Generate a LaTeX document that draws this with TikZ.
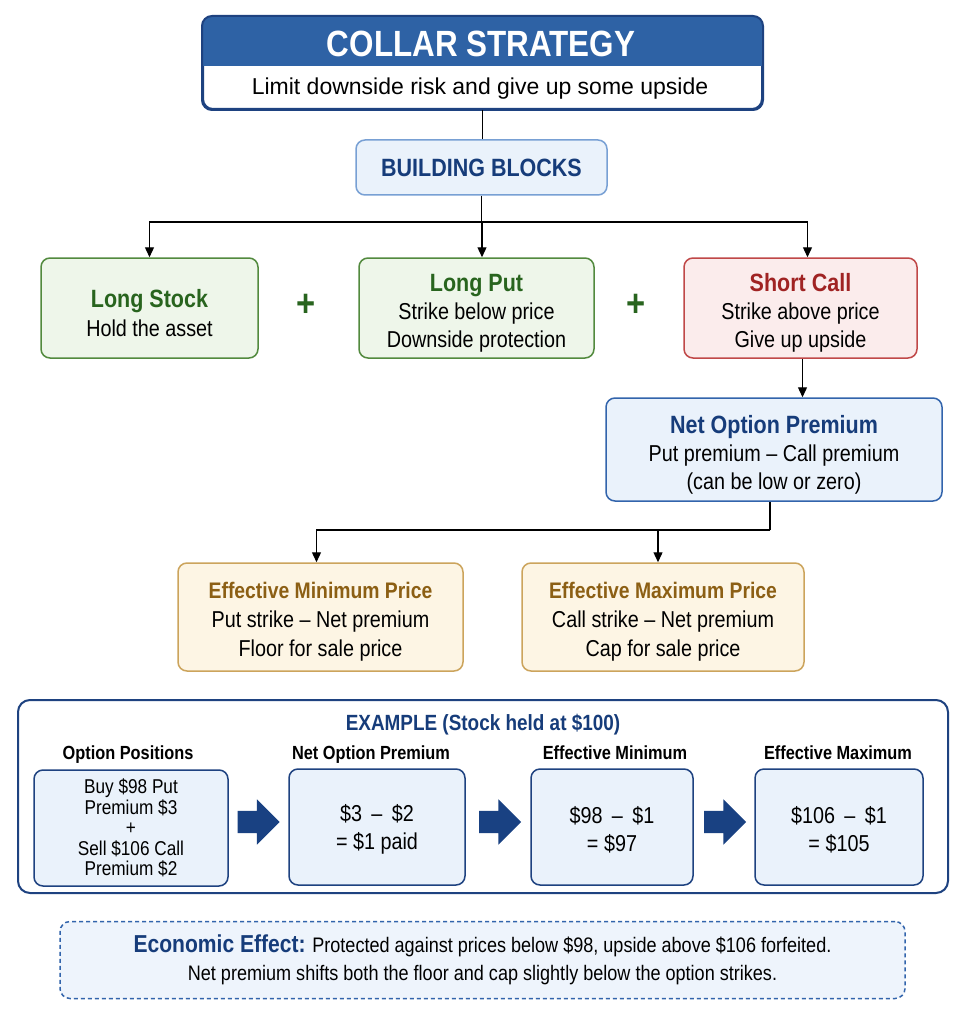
\documentclass[tikz,border=0pt]{standalone}
\usepackage{fontspec}
\setmainfont{Liberation Sans}[FakeStretch=0.86]
\newfontfamily\widefont{Liberation Sans}
\usetikzlibrary{arrows.meta,shapes.arrows}

\definecolor{hdrblue}{RGB}{46,98,165}
\definecolor{navyline}{RGB}{30,66,128}
\definecolor{navytext}{RGB}{22,60,122}
\definecolor{bluefill}{RGB}{234,242,251}
\definecolor{bbline}{RGB}{120,160,212}
\definecolor{blueline}{RGB}{50,100,172}
\definecolor{greenfill}{RGB}{238,246,234}
\definecolor{greenline}{RGB}{82,138,62}
\definecolor{greentext}{RGB}{40,100,30}
\definecolor{redfill}{RGB}{251,236,236}
\definecolor{redline}{RGB}{192,72,72}
\definecolor{redtext}{RGB}{160,35,35}
\definecolor{goldfill}{RGB}{253,245,228}
\definecolor{goldline}{RGB}{204,164,92}
\definecolor{goldtext}{RGB}{140,95,20}
\definecolor{arrowblue}{RGB}{25,65,130}
\definecolor{econfill}{RGB}{238,244,252}

\begin{document}
\begin{tikzpicture}[x=1pt,y=-1pt]
	\tikzstyle{every node} = [inner sep=0pt, align=center]
	\tikzstyle{box} = [draw, rounded corners=9pt, line width=1.5pt, font=\fontsize{23}{28}\selectfont]
	\tikzstyle{greenbox} = [box, fill=greenfill, draw=greenline, minimum height=100pt]
	\tikzstyle{redbox} = [box, fill=redfill, draw=redline, minimum height=100pt]
	\tikzstyle{bluebox} = [box, fill=bluefill, draw=blueline]
	\tikzstyle{goldbox} = [box, fill=goldfill, draw=goldline, minimum height=108pt, font=\fontsize{23}{29}\selectfont]
	\tikzstyle{exbox} = [box, fill=bluefill, draw=navyline, minimum height=116pt]
	\tikzstyle{colhead} = [anchor=base, font=\bfseries\fontsize{19}{22}\selectfont]
	\tikzstyle{plus} = [text=greentext, font=\bfseries\fontsize{38}{40}\selectfont]
	\tikzstyle{blockarrow} = [single arrow, fill=arrowblue, inner xsep=0pt, inner ysep=11pt, minimum height=42pt, single arrow head extend=11.5pt]
	\tikzstyle{arr} = [-{Triangle[length=10pt,width=9pt]}, line width=1.3pt]
	\tikzstyle{line} = [line width=1.3pt]
	\newcommand{\hd}[2]{{\color{#1}\bfseries\fontsize{25}{28}\selectfont\rule{0pt}{28pt}#2}}
	\newcommand{\gd}[1]{{\color{goldtext}\bfseries\fontsize{22.5}{29}\selectfont\rule{0pt}{26pt}#1}}

	\fill[white] (0,0) rectangle (967,1016);

	% title block
	\node[draw=navyline, line width=2pt, rounded corners=10pt, fill=white, minimum width=559pt, minimum height=92pt] (title) at (482.5,63) {};
	\begin{scope}
		\clip[rounded corners=10pt] (title.south west) rectangle (title.north east);
		\fill[hdrblue] (title.north west) rectangle ([yshift=-50pt]title.north east);
	\end{scope}
	\draw[navyline, line width=2pt, rounded corners=10pt] (title.south west) rectangle (title.north east);
	\node[text=white, font=\bfseries\fontsize{36.5}{40}\selectfont] (ttl) at (481,44) {COLLAR STRATEGY};
	\node[font=\widefont\fontsize{23}{27}\selectfont] (sub) at (480,89) {Limit downside risk and give up some upside};

	\node[box, fill=bluefill, draw=bbline, minimum width=251pt, minimum height=55pt, text=navytext, font=\bfseries\fontsize{25}{28}\selectfont] (bb) at (481.5,167.5) {BUILDING BLOCKS};

	% building blocks
	\node[greenbox, minimum width=217pt] (stock) at (149.5,308) {\hd{greentext}{Long Stock}\\[1pt] Hold the asset};
	\node[greenbox, minimum width=235pt] (put) at (476.5,308) {\hd{greentext}{Long Put}\\ Strike below price\\ Downside protection};
	\node[redbox, minimum width=233pt] (call) at (800.5,308) {\hd{redtext}{Short Call}\\ Strike above price\\ Give up upside};
	\node[plus] (plusA) at (306,305) {+};
	\node[plus] (plusB) at (636,305) {+};

	\node[bluebox, minimum width=336pt, minimum height=103pt] (nop) at (774,449.5) {\hd{navytext}{Net Option Premium}\\ Put premium – Call premium\\ (can be low or zero)};

	\node[goldbox, minimum width=285pt] (effmin) at (320.5,617) {\gd{Effective Minimum Price}\\ Put strike – Net premium\\ Floor for sale price};
	\node[goldbox, minimum width=282pt] (effmax) at (663,617) {\gd{Effective Maximum Price}\\ Call strike – Net premium\\ Cap for sale price};

	\coordinate (split1) at (482,222);
	\coordinate (split2) at (770,530);
	\draw[line] (title.south) -- (title.south |- bb.north);
	\draw[line] (bb.south) -- (bb.south |- split1);
	\draw[arr] (split1) -| (stock.north);
	\draw[arr] (split1) -- (split1 |- put.north);
	\draw[arr] (split1) -| ([xshift=7pt]call.north);
	\draw[arr] ([xshift=2pt]call.south) -- ([xshift=2pt]call.south |- nop.north);
	\draw[line] (split2 |- nop.south) -- (split2);
	\draw[arr] (split2) -| ([xshift=-4pt]effmin.north);
	\draw[arr] (split2) -| ([xshift=-5pt]effmax.north);

	% worked example
	\node[draw=navyline, line width=2pt, rounded corners=12pt, fill=white, minimum width=930pt, minimum height=193pt] (ex) at (483,796.5) {};
	\node[anchor=base, text=navytext, font=\bfseries\fontsize{22}{26}\selectfont] (extitle) at (483,730) {EXAMPLE (Stock held at \$100)};
	\node[colhead] (h1) at (128,759) {Option Positions};
	\node[colhead] (h2) at (371,759) {Net Option Premium};
	\node[colhead] (h3) at (615,759) {Effective Minimum};
	\node[colhead] (h4) at (838,759) {Effective Maximum};

	\node[exbox, minimum width=194pt, font=\fontsize{20}{20.5}\selectfont] (pos) at (131,828) {Buy \$98 Put\\ Premium \$3\\ +\\ Sell \$106 Call\\ Premium \$2};
	\node[exbox, minimum width=176pt] (net) at (377,827) {\rule{0pt}{22pt}\$3 \,–\, \$2\\ = \$1 paid};
	\node[exbox, minimum width=162pt] (emin) at (612,827) {\rule{0pt}{22pt}\$98 \,–\, \$1\\ = \$97};
	\node[exbox, minimum width=168pt] (emax) at (839,827) {\rule{0pt}{22pt}\$106 \,–\, \$1\\ = \$105};

	\node[blockarrow] (ba1) at (253,822) {};
	\node[blockarrow] (ba2) at (494.5,822) {};
	\node[blockarrow] (ba3) at (719.5,822) {};

	% summary
	\node[draw=blueline, fill=econfill, line width=1.5pt, dash pattern=on 4pt off 3pt, rounded corners=10pt, minimum width=845pt, minimum height=77pt, font=\fontsize{21}{28}\selectfont] (econ) at (482.5,960) {{\color{navytext}\bfseries\fontsize{24.5}{28}\selectfont Economic Effect:} Protected against prices below \$98, upside above \$106 forfeited.\\ Net premium shifts both the floor and cap slightly below the option strikes.};
\end{tikzpicture}
\end{document}
